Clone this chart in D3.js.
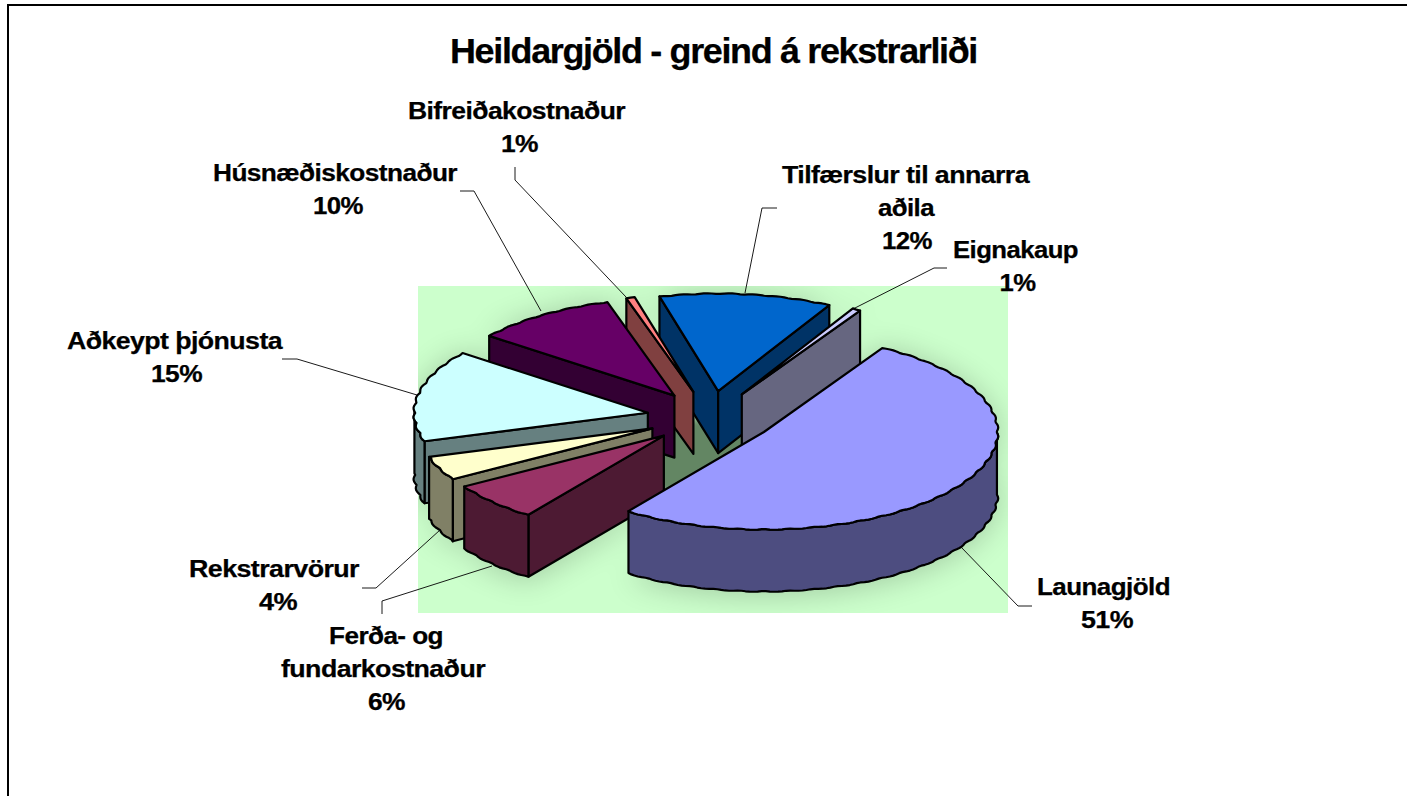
<!DOCTYPE html>
<html lang="is"><head><meta charset="utf-8">
<style>html,body{margin:0;padding:0;background:#fff;overflow:hidden}svg{display:block}
text{font-family:"Liberation Sans",Arial,sans-serif;font-weight:bold;fill:#000;stroke:#000;stroke-width:.25px}</style>
<script src="https://cdn.jsdelivr.net/npm/d3@7/dist/d3.min.js"></script></head><body>
<script>
const titleText = "Heildargjöld - greind á rekstrarliði";
const categories = ["Tilfærslur til annarra aðila","Eignakaup","Launagjöld","Ferða- og fundarkostnaður","Rekstrarvörur","Aðkeypt þjónusta","Húsnæðiskostnaður","Bifreiðakostnaður"];
const values = [11.9,0.6,51.4,6.4,4.0,15.2,9.9,0.6];
const topColors = ["#0066CC","#CCCCFF","#9999FF","#993366","#FFFFCC","#CCFFFF","#660066","#FF8080"];
const sideColors = ["#003366","#666680","#4D4D80","#4D1A33","#808066","#668080","#330033","#804040"];
const drawOrder = [0,1,7,6,5,4,3,2];
const labelLines = [["Tilfærslur til annarra","aðila","12%"],["Eignakaup","1%"],["Launagjöld","51%"],["Ferða- og","fundarkostnaður","6%"],["Rekstrarvörur","4%"],["Aðkeypt þjónusta","15%"],["Húsnæðiskostnaður","10%"],["Bifreiðakostnaður","1%"]];
const labelCentres = [[905.5,906,907],[1015.5,1017.5],[1103.5,1107],[386,383,386.5],[274,278],[174.5,176.5],[335,338],[516.5,519.5]];
const labelWidths = [[247,56,50],[125,36],[133,52],[114,204,37],[170,38],[215,51],[244,50],[217,37]];
const labelBase = [183,258,595,644,577,349,181,119];
const leaderPaths = [[[745,293],[762,208],[777,208]],[[851,310],[934,268],[947,268]],[[961,547],[1018,606],[1032,606]],[[492,566],[382,601],[382,614]],[[440,530],[376,588],[362,588]],[[417,395],[297,359],[282,359]],[[541,311],[474,191],[460,191]],[[626,297],[515,180],[515,167]]];

const W=1407,H=796;
const cx=710.5,cy=417.5,rx=232.5,ry=97,depth=62,explode=0.274,startDeg=-14.5;
const svg=d3.select("body").append("svg").attr("width",W).attr("height",H);
const defs=svg.append("defs");
defs.append("filter").attr("id","soft").attr("x","-30%").attr("y","-30%").attr("width","160%").attr("height","160%").append("feGaussianBlur").attr("stdDeviation",15);
defs.append("filter").attr("id","hubSoft").append("feGaussianBlur").attr("stdDeviation",3);
defs.append("clipPath").attr("id","plot").append("rect").attr("x",418).attr("y",286).attr("width",590).attr("height",327);

svg.append("path").attr("d",`M1407,5H8V796`).attr("fill","none").attr("stroke","#000").attr("stroke-width",2);
svg.append("rect").attr("x",418).attr("y",286).attr("width",590).attr("height",327).attr("fill","#CCFFCC");

const arcs=d3.pie().sort(null).value(d=>d).startAngle(startDeg*Math.PI/180).endAngle((startDeg+360)*Math.PI/180)(values);
const xs=d3.scaleLinear().domain([-1,1]).range([cx-rx,cx+rx]);
const ys=d3.scaleLinear().domain([-1,1]).range([cy-ry,cy+ry]);
const pt=(a,r=1,o=[0,0],dz=0)=>[xs(r*Math.sin(a)+o[0]),ys(-r*Math.cos(a)+o[1])+dz];
const line=d3.line();
const sliceOffset=a=>{const m=(a.startAngle+a.endAngle)/2;return [explode*Math.sin(m),-explode*Math.cos(m)];};
const angleAt=(a,i,n)=>a.startAngle+(a.endAngle-a.startAngle)*i/n;
const rimCount=a=>Math.max(2,Math.round((a.endAngle-a.startAngle)/(Math.PI/180)));
const bump=t=>1+0.009*Math.abs(Math.sin(30*t));
const rim=(a,o,dz)=>{const n=rimCount(a);return d3.range(n+1).map(i=>{const t=angleAt(a,i,n);return pt(t,bump(t),o,dz);});};

// floor shadow behind the whole pie
const shadow=svg.append("g").attr("clip-path","url(#plot)").append("g").attr("filter","url(#soft)").attr("opacity",0.2);
arcs.forEach(a=>{const o=sliceOffset(a);[0,depth+4].forEach(dz=>shadow.append("path").attr("d",line([pt(0,0,o,dz),...rim(a,o,dz)])+"Z").attr("fill","#000"));});
svg.append("path").attr("filter","url(#hubSoft)").attr("d",line(d3.range(0,25).map(i=>pt(i*Math.PI/12,0.4,[0,0],40)))+"Z").attr("fill","#648664");

const g=svg.append("g").attr("stroke","#000").attr("stroke-width",2.2).attr("stroke-linejoin","round");
drawOrder.forEach(i=>{
  const a=arcs[i],o=sliceOffset(a),apex=pt(0,0,o),apexB=pt(0,0,o,depth);
  const top=rim(a,o,0),bot=rim(a,o,depth),n=top.length-1;
  const mid=top[Math.round(n/2)];
  const s=g.append("g");
  [top[0],top[n]].forEach(p=>{
    const lineY=apex[1]+(p[1]-apex[1])*(mid[0]-apex[0])/(p[0]-apex[0]);
    if(mid[1]<lineY) s.append("path").attr("d",line([apex,p,[p[0],p[1]+depth],apexB])+"Z").attr("fill",sideColors[i]);
  });
  const front=d3.range(n+1).filter(k=>Math.cos(angleAt(a,k,n))<0.02);
  if(front.length>1) s.append("path").attr("d",line([...front.map(k=>top[k]),...front.map(k=>bot[k]).reverse()])+"Z").attr("fill",sideColors[i]);
  s.append("path").attr("d",line([apex,...top])+"Z").attr("fill",topColors[i]);
});

svg.append("g").selectAll("path").data(leaderPaths).join("path").attr("d",d=>line(d)).attr("fill","none").attr("stroke","#000").attr("stroke-width",0.9);

svg.append("text").attr("x",713.5).attr("y",63).attr("text-anchor","middle").attr("font-size",35).attr("letter-spacing",-1.3).attr("textLength",527).attr("lengthAdjust","spacingAndGlyphs").text(titleText);
const lab=svg.append("g").attr("font-size",23).attr("letter-spacing",-0.5).attr("text-anchor","middle");
labelLines.forEach((ls,i)=>ls.forEach((t,j)=>lab.append("text").attr("x",labelCentres[i][j]).attr("y",labelBase[i]+j*33).attr("textLength",labelWidths[i][j]).attr("lengthAdjust","spacingAndGlyphs").text(t)));
</script></body></html>
